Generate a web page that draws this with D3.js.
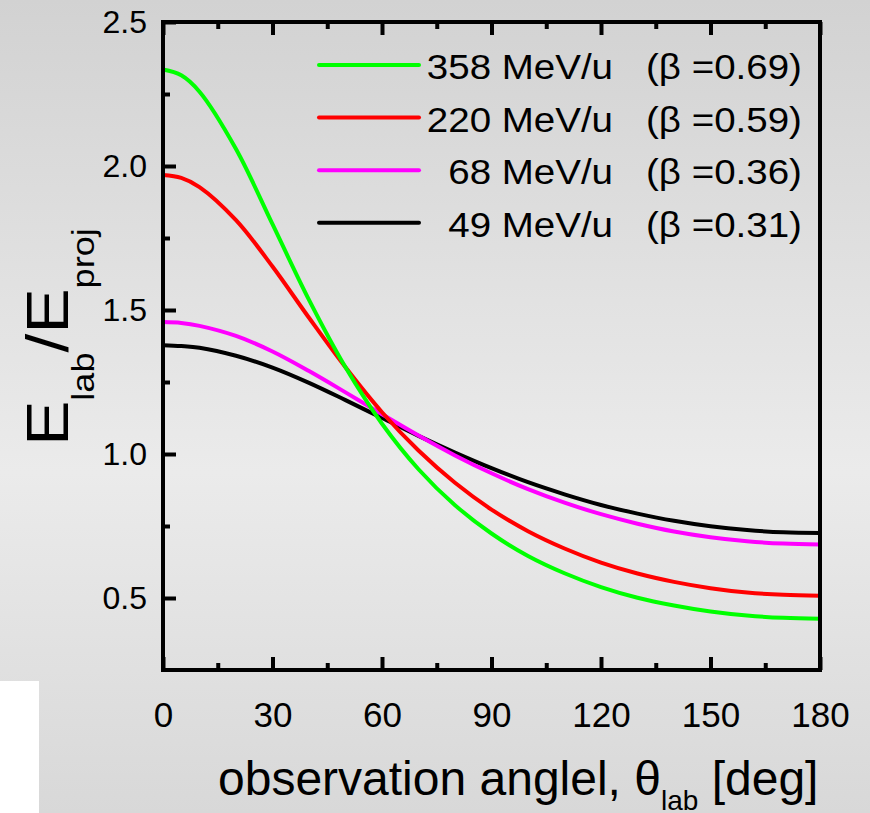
<!DOCTYPE html>
<html>
<head>
	<meta charset="utf-8">
	<script src="https://d3js.org/d3.v7.min.js"></script>
	<title>E_lab / E_proj vs observation angle</title>
	<style type="text/css">
		body {
			margin: 0;
		}
		svg text {
			font-family: "Liberation Sans", Arial, sans-serif;
			fill: #000;
		}
	</style>
</head>
<body>
	<div id="chartContainer"></div>

	<script type="text/javascript">
		// values
		var angles = [0, 5, 10, 20, 30, 40, 50, 60, 70, 80, 90, 100, 110, 120, 130, 140, 150, 160, 170, 180];
		var e358 = [2.335, 2.315, 2.258, 2.059, 1.798, 1.535, 1.301, 1.105, 0.947, 0.822, 0.724, 0.646, 0.586, 0.538, 0.501, 0.474, 0.453, 0.439, 0.431, 0.428];
		var e220 = [1.969, 1.959, 1.927, 1.812, 1.651, 1.473, 1.301, 1.145, 1.012, 0.900, 0.807, 0.732, 0.672, 0.623, 0.585, 0.556, 0.534, 0.519, 0.511, 0.508];
		var e68  = [1.458, 1.455, 1.445, 1.410, 1.356, 1.288, 1.214, 1.138, 1.064, 0.995, 0.933, 0.878, 0.831, 0.791, 0.758, 0.731, 0.711, 0.697, 0.689, 0.686];
		var e49  = [1.378, 1.375, 1.369, 1.341, 1.300, 1.247, 1.187, 1.125, 1.063, 1.005, 0.951, 0.902, 0.860, 0.823, 0.793, 0.768, 0.749, 0.736, 0.728, 0.726];

		var energyLabels = ["358 MeV/u", "220 MeV/u", "68 MeV/u", "49 MeV/u"];
		var betaLabels = ["(\u03b2 =0.69)", "(\u03b2 =0.59)", "(\u03b2 =0.36)", "(\u03b2 =0.31)"];
		var seriesColors = ["#00ff00", "#ff0000", "#ff00ff", "#000000"];

		var xTicks = [0, 30, 60, 90, 120, 150, 180];
		var xMinor = [15, 45, 75, 105, 135, 165];
		var yTicks = [0.5, 1.0, 1.5, 2.0, 2.5];
		var yMinor = [0.75, 1.25, 1.75, 2.25];

		var series = [e358, e220, e68, e49];

		var W = 870, H = 813;
		var plotL = 163, plotR = 820, plotT = 22, plotB = 670;

		var svg = d3.select("#chartContainer").append("svg")
			.attr("width", W)
			.attr("height", H);

		// grey slide background
		var grad = svg.append("defs").append("linearGradient")
			.attr("id", "bg")
			.attr("x1", 0).attr("y1", 0).attr("x2", 0).attr("y2", 1);
		grad.append("stop").attr("offset", "0%").attr("stop-color", "#d2d2d2");
		grad.append("stop").attr("offset", "58%").attr("stop-color", "#ebebeb");
		grad.append("stop").attr("offset", "100%").attr("stop-color", "#d8d8d8");

		svg.append("rect")
			.attr("width", W).attr("height", H)
			.attr("fill", "url(#bg)");

		svg.append("rect")
			.attr("x", 0).attr("y", 681)
			.attr("width", 39).attr("height", H - 681)
			.attr("fill", "#ffffff");

		var x = d3.scaleLinear().domain([0, 180]).range([plotL, plotR]);
		var y = d3.scaleLinear().domain([0.25, 2.5]).range([plotB, plotT]);

		// curves
		var line = d3.line()
			.x(function (d, i) { return x(angles[i]); })
			.y(function (d) { return y(d); })
			.curve(d3.curveCatmullRom.alpha(0.5));

		for (var k = series.length - 1; k >= 0; k--) {
			svg.append("path")
				.attr("d", line(series[k]))
				.attr("fill", "none")
				.attr("stroke", seriesColors[k])
				.attr("stroke-width", 4);
		}

		// axes, ticks pointing inward
		var bottomAxis = svg.append("g")
			.attr("transform", "translate(0," + plotB + ")")
			.call(d3.axisBottom(x).tickValues(xTicks).tickSize(-13).tickPadding(32));
		svg.append("g")
			.attr("transform", "translate(0," + plotB + ")")
			.call(d3.axisBottom(x).tickValues(xMinor).tickSize(-7).tickFormat(""));
		svg.append("g")
			.attr("transform", "translate(0," + plotT + ")")
			.call(d3.axisTop(x).tickValues(xTicks).tickSize(-13).tickFormat(""));
		svg.append("g")
			.attr("transform", "translate(0," + plotT + ")")
			.call(d3.axisTop(x).tickValues(xMinor).tickSize(-7).tickFormat(""));

		var leftAxis = svg.append("g")
			.attr("transform", "translate(" + plotL + ",0)")
			.call(d3.axisLeft(y).tickValues(yTicks).tickSize(-13).tickPadding(16).tickFormat(d3.format(".1f")));
		svg.append("g")
			.attr("transform", "translate(" + plotL + ",0)")
			.call(d3.axisLeft(y).tickValues(yMinor).tickSize(-7).tickFormat(""));

		svg.selectAll(".domain").remove();
		svg.selectAll(".tick line")
			.attr("stroke", "#000")
			.attr("stroke-width", 4);
		svg.selectAll(".tick text").attr("fill", "#000");
		bottomAxis.selectAll("text").style("font-size", "35px");
		leftAxis.selectAll("text").style("font-size", "32px");

		// frame
		svg.append("rect")
			.attr("x", plotL).attr("y", plotT)
			.attr("width", plotR - plotL).attr("height", plotB - plotT)
			.attr("fill", "none")
			.attr("stroke", "#000")
			.attr("stroke-width", 4);

		// legend (text slightly wider than the font, as in the slide)
		var legend = svg.append("g");
		energyLabels.forEach(function (lab, i) {
			var ly = 65 + i * 52.6;
			legend.append("line")
				.attr("x1", 319).attr("x2", 419)
				.attr("y1", ly).attr("y2", ly)
				.attr("stroke", seriesColors[i])
				.attr("stroke-width", 4)
				.attr("stroke-linecap", "round");
			legend.append("text")
				.attr("transform", "translate(613," + (ly + 14) + ") scale(1.1,1)")
				.attr("text-anchor", "end")
				.style("font-size", "35px")
				.text(lab);
			legend.append("text")
				.attr("transform", "translate(646," + (ly + 14) + ") scale(1.1,1)")
				.style("font-size", "35px")
				.text(betaLabels[i]);
		});

		// x title
		var xt = svg.append("text")
			.attr("x", 218).attr("y", 795)
			.style("font-size", "48px");
		xt.append("tspan").text("observation anglel, \u03b8");
		xt.append("tspan").attr("dy", 15).style("font-size", "28px").text("lab");
		xt.append("tspan").attr("dy", -15).text(" [deg]");

		// y title
		var yt = svg.append("text")
			.attr("transform", "translate(68,337) rotate(-90) scale(1.13,1)")
			.attr("text-anchor", "middle")
			.style("font-size", "60px");
		yt.append("tspan").text("E");
		yt.append("tspan").attr("dy", 26).style("font-size", "32px").text("lab");
		yt.append("tspan").attr("dy", -26).text("/E");
		yt.append("tspan").attr("dy", 26).style("font-size", "32px").text("proj");
	</script>
</body>
</html>
